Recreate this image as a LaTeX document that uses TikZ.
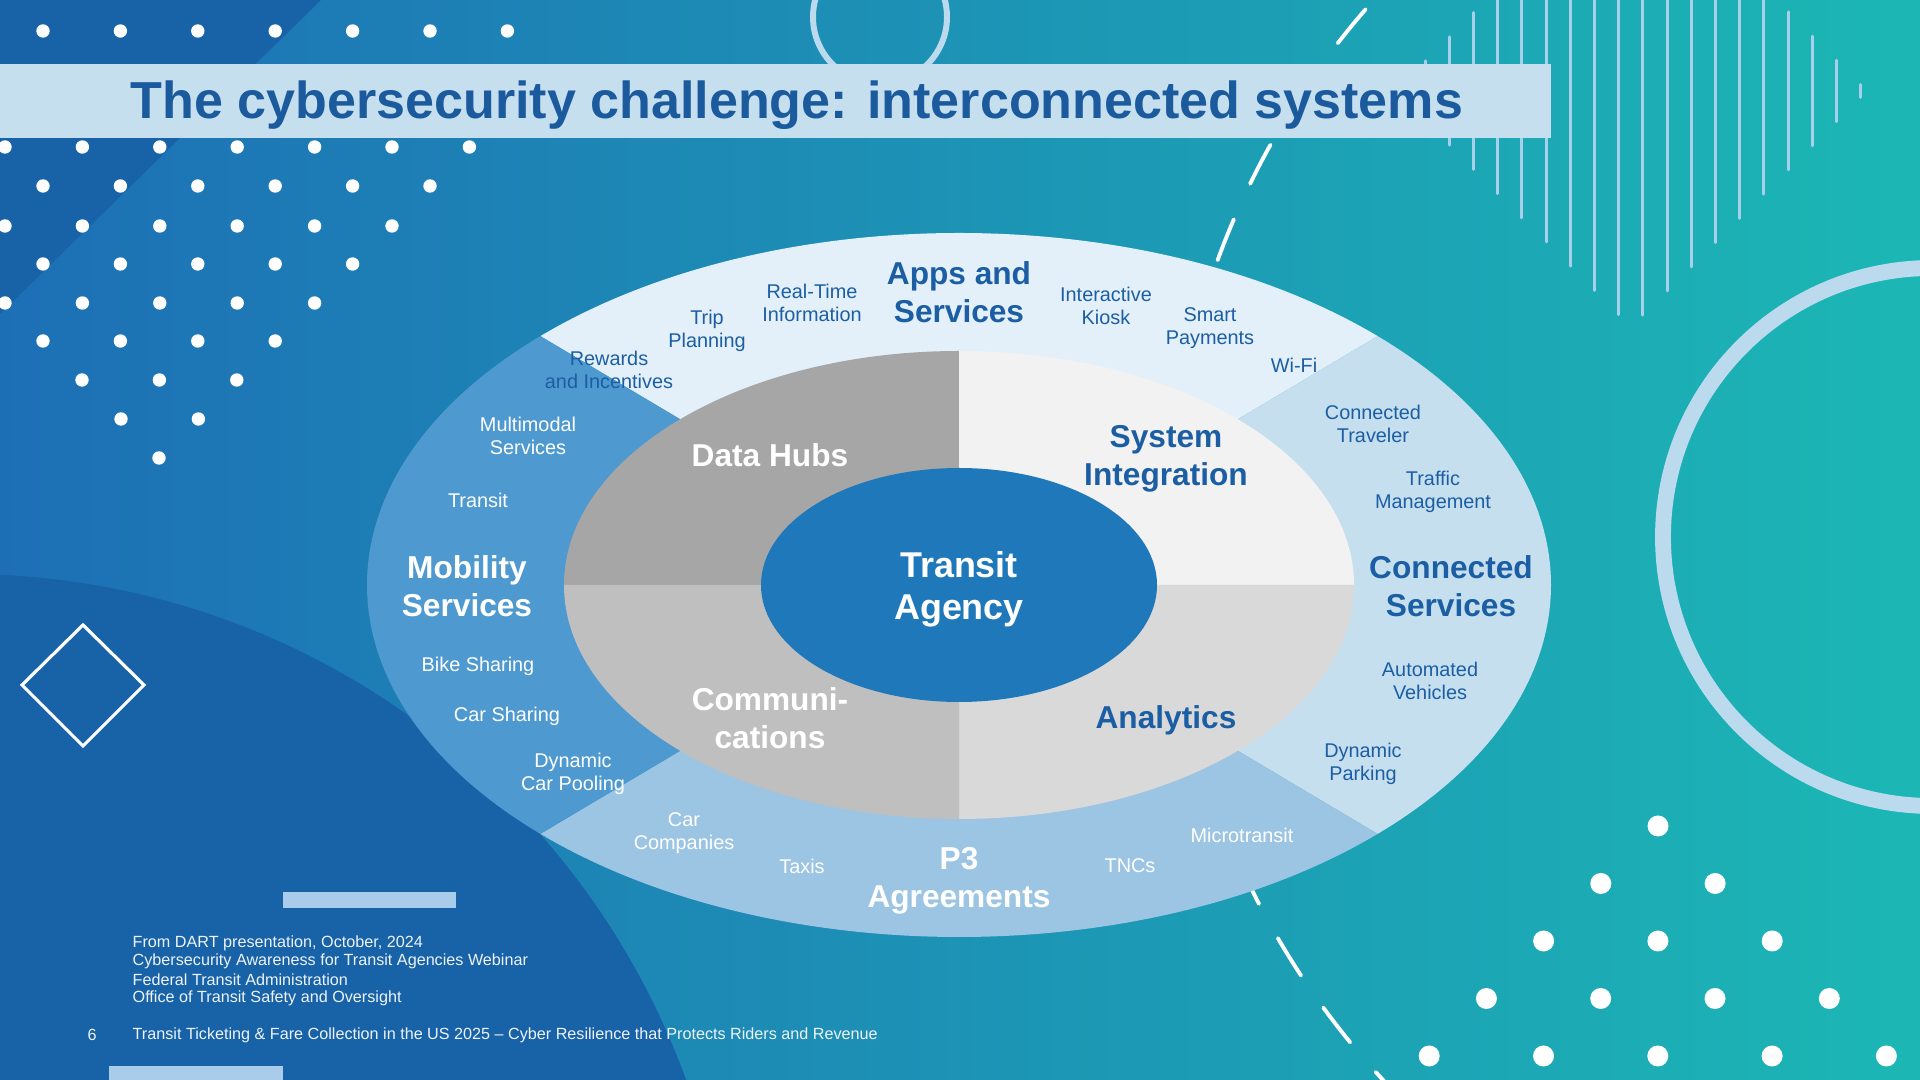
\documentclass[tikz,border=0pt]{standalone}
\usepackage{fontspec}
\setmainfont{Liberation Sans}
\usepackage{tikz}
\usepackage{xcolor}
\usetikzlibrary{calc}
\definecolor{bgleftc}{HTML}{1D6FB5}
\definecolor{bgmidc}{HTML}{1F86BD}
\definecolor{bgrightc}{HTML}{1CB7B5}
\definecolor{bgdarkc}{HTML}{1862A7}
\definecolor{titlebarc}{HTML}{C6DFEF}
\definecolor{titlebluec}{HTML}{1B5A9D}
\definecolor{textbluec}{HTML}{1C5EA3}
\definecolor{stripec}{HTML}{A9D0EA}
\definecolor{ringc}{HTML}{BCDAEE}
\definecolor{barbluec}{HTML}{A8CCEA}
\definecolor{notec}{HTML}{EDF3F9}
\colorlet{bgleft}{bgleftc}
\colorlet{bgmid}{bgmidc}
\colorlet{bgright}{bgrightc}
\colorlet{bgdark}{bgdarkc}
\colorlet{titlebar}{titlebarc}
\colorlet{titleblue}{titlebluec}
\colorlet{textblue}{textbluec}
% ring sectors
\definecolor{appsfill}{HTML}{E3F0F9}
\definecolor{connfill}{HTML}{C5DFEF}
\definecolor{pthreefill}{HTML}{9CC5E4}
\definecolor{mobfill}{HTML}{4E9AD0}
\definecolor{hubfill}{HTML}{A6A6A6}
\definecolor{integfill}{HTML}{F2F2F2}
\definecolor{commfill}{HTML}{BFBFBF}
\definecolor{analyfill}{HTML}{D9D9D9}
\definecolor{agencyfill}{HTML}{1F78BA}
\tikzstyle{titletext} =[
    text=titleblue,
    font=\bfseries\fontsize{14.8}{17}\selectfont,
    inner sep=0pt
    ]
\tikzstyle{item} = [
    text=textblue,
    font=\fontsize{5.65}{6.55}\selectfont,
    align=center,
    inner sep=0pt
    ]
\tikzstyle{itemw} = [item, text=white]
\tikzstyle{sector} = [
    text=textblue,
    font=\bfseries\fontsize{9}{10.8}\selectfont,
    align=center,
    inner sep=0pt
    ]
\tikzstyle{sectorw} = [sector, text=white]
\tikzstyle{note} = [
    text=notec,
    font=\fontsize{4.6}{5.35}\selectfont,
    anchor=west,
    inner sep=0pt
    ]
\tikzstyle{dot} = [fill=white]
\tikzstyle{stripe} = [draw=stripec, line width=0.85pt, line cap=round]
\tikzstyle{ringline} = [draw=ringc]
\tikzstyle{dashline} = [draw=white, line width=1.1pt, line cap=round,
    dash pattern=on 12.5pt off 11.1pt]

\begin{document}
\begin{tikzpicture}[x=0.01cm, y=-0.01cm]
\useasboundingbox (0,0) rectangle (1920,1080);
% backdrop
\shade[left color=bgleft, middle color=bgmid, right color=bgright] (0,0) rectangle (1920,1080);
\fill[bgdark] (0,0) -- (321,0) -- (0,314) -- cycle;
\fill[bgdark] (-36,1342) circle[radius=768];
\draw[dashline] (1970,535) ++(221.02:801) arc[start angle=221.02, end angle=130, radius=801];
\foreach \k in {0,...,18}{
    \pgfmathsetmacro{\lx}{1425+24.2*\k}
    \pgfmathsetmacro{\lh}{236-abs(\lx-1631)}
    \pgfmathsetmacro{\ltop}{max(0,91-\lh)}
    \draw[stripe] (\lx,\ltop) -- (\lx,91+\lh);
}
\draw[ringline, line width=1.7pt] (880,17) circle[radius=67];
\draw[ringline, line width=4.5pt] (1932,537) circle[radius=269];
\foreach \dy/\dx/\dn in {31/43/7, 147/5/7, 186/43/6, 226/5/6, 264/43/5, 303/5/5, 341/43/4, 380/82/3, 419/121/2, 458/159/1}{
    \foreach \i in {1,...,\dn}
        \fill[dot] ({\dx+77.4*(\i-1)},\dy) circle[radius=6.7];
}
\foreach \r in {0,...,4}{
    \foreach \i in {0,...,\r}
        \fill[dot] ({1658-57.2*\r+114.3*\i},{826+57.5*\r}) circle[radius=10.5];
}
\fill[barbluec] (283,892) rectangle (456,908);
\fill[barbluec] (109,1066) rectangle (283,1080);
\draw[white, line width=0.9pt] (83,625) -- (144,685) -- (83,746) -- (22,685) -- cycle;

% title
\fill[titlebar] (0,64) rectangle (1551,138);
\node[titletext] (title) at (797,105.5) {The cybersecurity challenge: interconnected systems};

% rings
\coordinate (c) at (959,585);
\fill[appsfill] (c) -- ++(225:592 and 352) arc[start angle=225, end angle=315, x radius=592, y radius=352] -- cycle;
\fill[connfill] (c) -- ++(-45:592 and 352) arc[start angle=-45, end angle=45, x radius=592, y radius=352] -- cycle;
\fill[pthreefill] (c) -- ++(45:592 and 352) arc[start angle=45, end angle=135, x radius=592, y radius=352] -- cycle;
\fill[mobfill] (c) -- ++(135:592 and 352) arc[start angle=135, end angle=225, x radius=592, y radius=352] -- cycle;
\fill[hubfill] (c) -- ++(180:395 and 234) arc[start angle=180, end angle=270, x radius=395, y radius=234] -- cycle;
\fill[integfill] (c) -- ++(270:395 and 234) arc[start angle=270, end angle=360, x radius=395, y radius=234] -- cycle;
\fill[analyfill] (c) -- ++(0:395 and 234) arc[start angle=0, end angle=90, x radius=395, y radius=234] -- cycle;
\fill[commfill] (c) -- ++(90:395 and 234) arc[start angle=90, end angle=180, x radius=395, y radius=234] -- cycle;
\fill[agencyfill] (c) ellipse[x radius=198, y radius=117];

% outer labels
\node[sector] (apps) at (959,292) {Apps and\\Services};
\node[item] (realtime) at (812,303) {Real-Time\\Information};
\node[item] (trip) at (707,331) {Trip\\Planning};
\node[item] (rewards) at (609,370) {Rewards\\and Incentives};
\node[item] (kiosk) at (1106,306) {Interactive\\Kiosk};
\node[item] (payments) at (1210,328) {Smart\\Payments};
\node[item] (wifi) at (1294,365) {Wi-Fi};
\node[item] (traveler) at (1373,424) {Connected\\Traveler};
\node[item] (traffic) at (1433,492) {Traffic\\Management};
\node[sector] (connected) at (1451,586) {Connected\\Services};
\node[item] (automated) at (1430,681) {Automated\\Vehicles};
\node[item] (parking) at (1363,764) {Dynamic\\Parking};
\node[itemw] (microtransit) at (1242,835) {Microtransit};
\node[itemw] (tncs) at (1130,866) {TNCs};
\node[sectorw] (pthree) at (959,881) {P3\\Agreements};
\node[itemw] (taxis) at (802,866) {Taxis};
\node[itemw] (carco) at (684,833) {Car\\Companies};
\node[itemw] (carpool) at (573,774) {Dynamic\\Car Pooling};
\node[itemw] (carshare) at (507,716) {Car Sharing};
\node[itemw] (bikeshare) at (478,666) {Bike Sharing};
\node[sectorw] (mobility) at (467,586) {Mobility\\Services};
\node[itemw] (transit) at (478,500) {Transit};
\node[itemw] (multimodal) at (528,436) {Multimodal\\Services};

% inner labels
\node[sectorw] (datahubs) at (770,455) {Data Hubs};
\node[sector] (sysint) at (1166,459) {System\\Integration};
\node[sectorw] (comms) at (770,718) {Communi-\\cations};
\node[sector] (analytics) at (1166,720) {Analytics};
\node[sectorw, font=\bfseries\fontsize{10.2}{12}\selectfont] (agency) at (959,589) {Transit\\Agency};

% source and footer
\node[note] (note1) at (132,943) {From DART presentation, October, 2024};
\node[note] (note2) at (132,961) {Cybersecurity Awareness for Transit Agencies Webinar};
\node[note] (note3) at (132,980) {Federal Transit Administration};
\node[note] (note4) at (132,998) {Office of Transit Safety and Oversight};
\node[note, anchor=center] (pagenum) at (92,1035) {6};
\node[note] (footer) at (132,1035) {Transit Ticketing \& Fare Collection in the US 2025 -- Cyber Resilience that Protects Riders and Revenue};
\end{tikzpicture}
\end{document}
